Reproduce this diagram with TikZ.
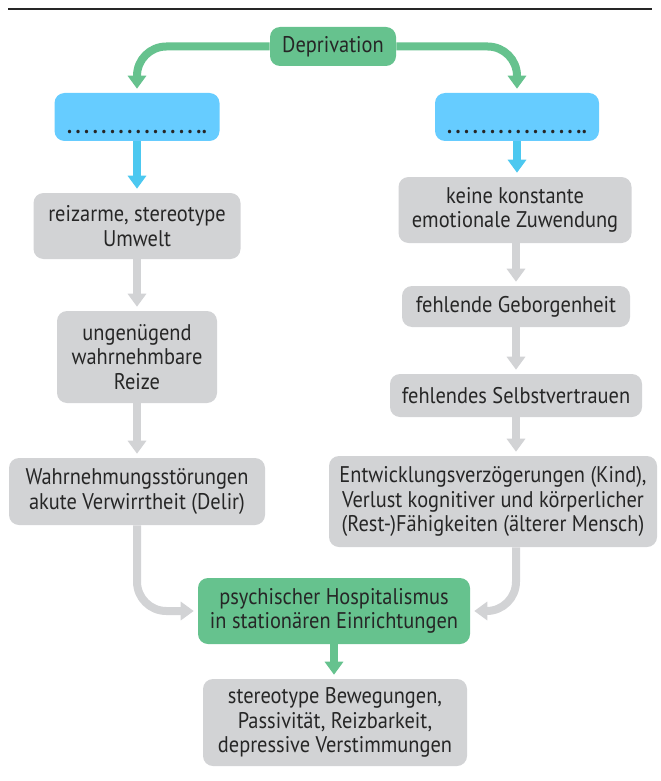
\documentclass[tikz,border=0pt]{standalone}
\usepackage{fontspec}
\setmainfont{PT Sans}[FakeStretch=0.90]
\usepackage{xcolor}
\usetikzlibrary{
	positioning,    % posizionamento dei nodi
	arrows.meta     % frecce Triangle
}
\definecolor{verde}{HTML}{66C28E}
\definecolor{azzurro}{HTML}{66CCFF}
\definecolor{azzurroscuro}{HTML}{4CC8F0}
\definecolor{grigio}{HTML}{D2D3D5}
\definecolor{testo}{HTML}{262626}
% riga di puntini nei riquadri azzurri
\newcommand{\puntini}{\textbf{\foreach \i in {1,...,16}{.\kern2.7pt}\kern-2.2pt.}}

\begin{document}
\begin{tikzpicture}[x=0.75pt, y=-0.75pt,
		box/.style={rounded corners=7.5pt, align=center, text=testo, inner sep=0pt,
			font=\fontsize{17}{18.4}\selectfont},
		dim/.style 2 args={minimum width=#1*0.75pt, minimum height=#2*0.75pt},
		boxgrigio/.style={box, fill=grigio},
		boxverde/.style={box, fill=verde},
		boxazzurro/.style={box, fill=azzurro},
		freccia/.style={line width=6pt, -{Triangle[width=13.5pt, length=9.75pt]}, shorten >=3pt}
	]
	% Area del disegno (proporzioni del riferimento)
	\useasboundingbox (0,0) rectangle (660,781);
	
	% --- Linea di testata ---
	\draw[line width=1.8pt, testo] (8,9) -- (652,9);
	
	% --- Nodo iniziale ---
	\node[boxverde, dim={126}{39}] (dep) at (333,46.5) {Deprivation};
	
	% --- Colonna sinistra ---
	\node[boxazzurro, dim={165}{48}] (blueL) at (137,117) {\strut\\[-6pt]\puntini};
	\node[boxgrigio, dim={207}{66}] (g1) at (137,226) {reizarme, stereotype\\Umwelt};
	\node[boxgrigio, dim={160}{92}] (g2) at (137,357) {ungenügend\\wahrnehmbare\\Reize};
	\node[boxgrigio, dim={256}{67}] (g3) at (137,491.5) {Wahrnehmungsstörungen\\akute Verwirrtheit (Delir)};
	
	% --- Colonna destra ---
	\node[boxazzurro, dim={164}{48}] (blueR) at (517,117) {\strut\\[-6pt]\puntini};
	\node[boxgrigio, dim={233}{66}] (r1) at (515,210) {keine konstante\\emotionale Zuwendung};
	\node[boxgrigio, dim={228}{41}] (r2) at (516,306.5) {fehlende Geborgenheit};
	\node[boxgrigio, dim={252}{43}] (r3) at (516,395.5) {fehlendes Selbstvertrauen};
	\node[boxgrigio, dim={328}{91}] (r4) at (493,501.5) {Entwicklungsverzögerungen (Kind),\\Verlust kognitiver und körperlicher\\(Rest-)Fähigkeiten (älterer Mensch)};
	
	% --- Esito ---
	\node[boxverde, dim={272}{66}] (hosp) at (334,611) {psychischer Hospitalismus\\in stationären Einrichtungen};
	\node[boxgrigio, dim={264}{87}] (out) at (335,722.5) {stereotype Bewegungen,\\Passivität, Reizbarkeit,\\depressive Verstimmungen};
	
	% --- Frecce ---
	% dalla deprivazione ai due rami
	\draw[freccia, verde, rounded corners=22pt] (dep.west) -| (blueL.north);
	\draw[freccia, verde, rounded corners=22pt] (dep.east) -| (blueR.north);
	% ramo sinistro
	\draw[freccia, azzurroscuro] (blueL) -- (g1);
	\draw[freccia, grigio] (g1) -- (g2);
	\draw[freccia, grigio] (g2) -- (g3);
	\draw[freccia, grigio, rounded corners=22pt] (g3.south) |- (hosp.west);
	% ramo destro
	\draw[freccia, azzurroscuro] (blueR) -- (blueR |- r1.north);
	\draw[freccia, grigio] (r1.south -| r2) -- (r2);
	\draw[freccia, grigio] (r2) -- (r3);
	\draw[freccia, grigio] (r3) -- (r3 |- r4.north);
	\draw[freccia, grigio, rounded corners=22pt] (r4.south -| r3) |- (hosp.east);
	% esito finale
	\draw[freccia, verde] (hosp) -- (hosp |- out.north);
\end{tikzpicture}
\end{document}
